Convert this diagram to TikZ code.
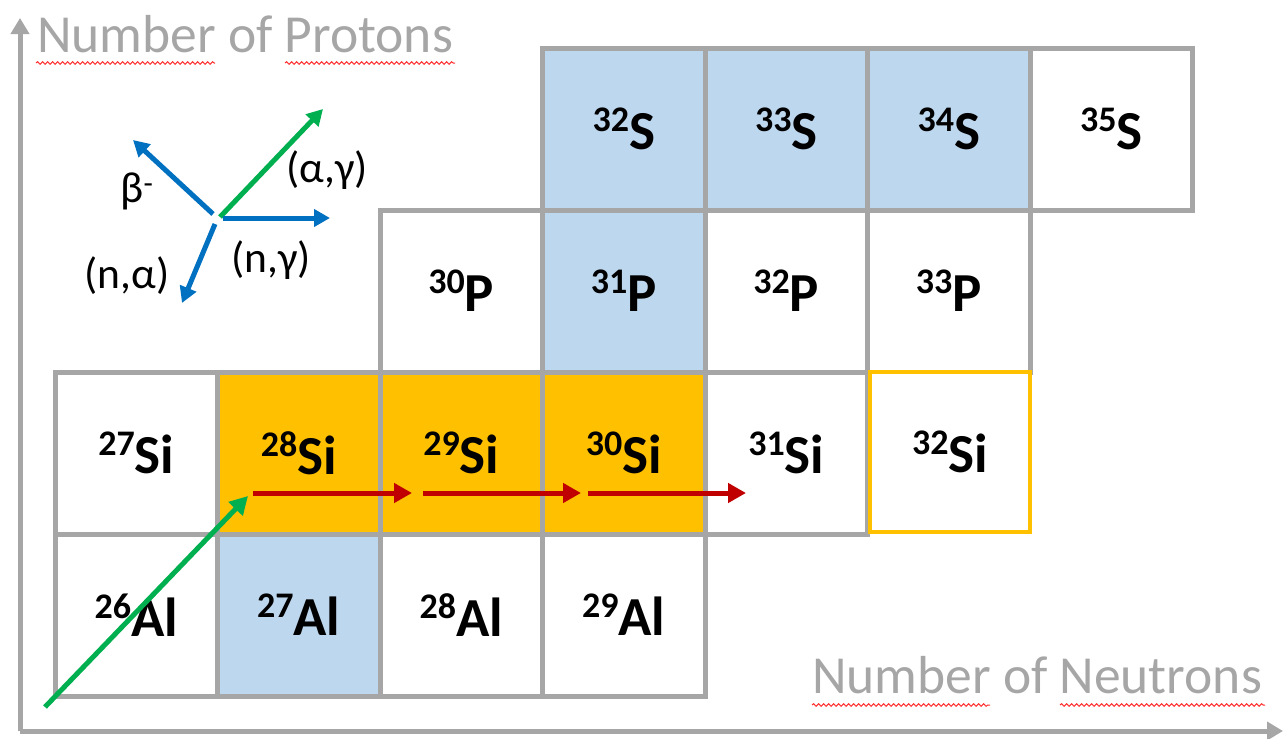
\documentclass[tikz,border=0pt]{standalone}
\usepackage{fontspec}
\setmainfont{Carlito}
\usetikzlibrary{arrows.meta,decorations.pathmorphing}
\definecolor{cgray}{HTML}{A6A6A6}
\definecolor{cblue}{HTML}{BDD7EE}
\definecolor{corange}{HTML}{FFC000}
\definecolor{arrblue}{HTML}{0070C0}
\definecolor{arrgreen}{HTML}{00B050}
\definecolor{arrred}{HTML}{C00000}
\definecolor{squig}{HTML}{FF3030}
\newcommand{\iso}[2]{\raisebox{18pt}{\fontsize{36}{36}\selectfont\bfseries #1}#2}
\begin{document}
\begin{tikzpicture}[x=1pt,y=-1pt,
  cell/.style={draw=cgray, line width=5pt, minimum width=162.5pt, minimum height=162pt,
    inner sep=0pt, fill=white, font=\fontsize{55}{55}\selectfont\bfseries},
  bluecell/.style={cell, fill=cblue},
  orangecell/.style={cell, fill=corange},
  axis/.style={draw=cgray, line width=5pt, -{Triangle[length=16pt,width=18pt]}},
  axlabel/.style={text=cgray, font=\fontsize{53.5}{53.5}\selectfont, inner sep=0pt, anchor=base west},
  squiggle/.style={draw=squig, line width=1pt, decorate, decoration={snake, amplitude=1.3pt, segment length=5pt}},
  react/.style={line width=5pt, -{Triangle[length=16pt,width=17pt]}},
  rlabel/.style={font=\fontsize{43.5}{43.5}\selectfont, inner sep=0pt},
  redarr/.style={draw=arrred, line width=5pt, -{Triangle[length=18pt,width=19pt]}}
]
\useasboundingbox (0,0) rectangle (1283,739);
% axes
\coordinate (o) at (20,731);
\coordinate (xend) at (1283,731);
\coordinate (yend) at (20,18);
\draw[axis] (o) -- (xend);
\draw[axis] (o) -- (yend);
\node[axlabel] (ylab) at (37,52) {Number of Protons};
\node[axlabel] (xlab) at (812,693) {Number of Neutrons};
\draw[squiggle] (36,63) -- (215,63);
\draw[squiggle] (285,63) -- (455,63);
\draw[squiggle] (812,705) -- (990,705);
\draw[squiggle] (1060,705) -- (1265,705);
% S row
\node[bluecell] (s32) at (623.75,129) {\iso{32}{S}};
\node[bluecell] (s33) at (786.25,129) {\iso{33}{S}};
\node[bluecell] (s34) at (948.75,129) {\iso{34}{S}};
\node[cell] (s35) at (1111.25,129) {\iso{35}{S}};
% P row
\node[cell] (p30) at (461.25,291) {\iso{30}{P}};
\node[bluecell] (p31) at (623.75,291) {\iso{31}{P}};
\node[cell] (p32) at (786.25,291) {\iso{32}{P}};
\node[cell] (p33) at (948.75,291) {\iso{33}{P}};
% Si row
\node[cell] (si27) at (136.25,453) {\iso{27}{Si}};
\node[orangecell] (si28) at (298.75,453) {\iso{28}{Si}};
\node[orangecell] (si29) at (461.25,453) {\iso{29}{Si}};
\node[orangecell] (si30) at (623.75,453) {\iso{30}{Si}};
\node[cell] (si31) at (786.25,453) {\iso{31}{Si}};
% Al row
\node[cell] (al26) at (136.25,615) {\iso{26}{Al}};
\node[bluecell] (al27) at (298.75,615) {\iso{27}{Al}};
\node[cell] (al28) at (461.25,615) {\iso{28}{Al}};
\node[cell] (al29) at (623.75,615) {\iso{29}{Al}};
% 32Si with orange frame
\node[cell, draw=corange, line width=3.5pt, minimum width=160pt, minimum height=160pt] (si32) at (950,452) {\iso{32}{Si}};
% reaction legend
\coordinate (c1) at (213,214);
\coordinate (c2) at (220,217);
\coordinate (c3) at (223,218);
\coordinate (c4) at (215,224);
\coordinate (tb) at (133,140);
\coordinate (tag) at (323,109);
\coordinate (tng) at (330,218);
\coordinate (tna) at (182,303);
\draw[react, draw=arrblue] (c1) -- (tb);
\draw[react, draw=arrgreen] (c2) -- (tag);
\draw[react, draw=arrblue] (c3) -- (tng);
\draw[react, draw=arrblue] (c4) -- (tna);
\node[rlabel] (lb) at (137,191) {β\textsuperscript{-}};
\node[rlabel] (lag) at (327,170) {(α,γ)};
\node[rlabel] (lng) at (271,260) {(n,γ)};
\node[rlabel] (lna) at (127,276) {(n,α)};
% red (n,gamma) chain
\coordinate (r1a) at (253,493);
\coordinate (r1b) at (412,493);
\coordinate (r2a) at (423,493);
\coordinate (r2b) at (581,493);
\coordinate (r3a) at (588,493);
\coordinate (r3b) at (746,493);
\draw[redarr] (r1a) -- (r1b);
\draw[redarr] (r2a) -- (r2b);
\draw[redarr] (r3a) -- (r3b);
% green (alpha,gamma) arrow
\coordinate (g1) at (45,707);
\coordinate (g2) at (248,496);
\draw[react, draw=arrgreen, -{Triangle[length=18pt,width=19pt]}] (g1) -- (g2);
\end{tikzpicture}
\end{document}
